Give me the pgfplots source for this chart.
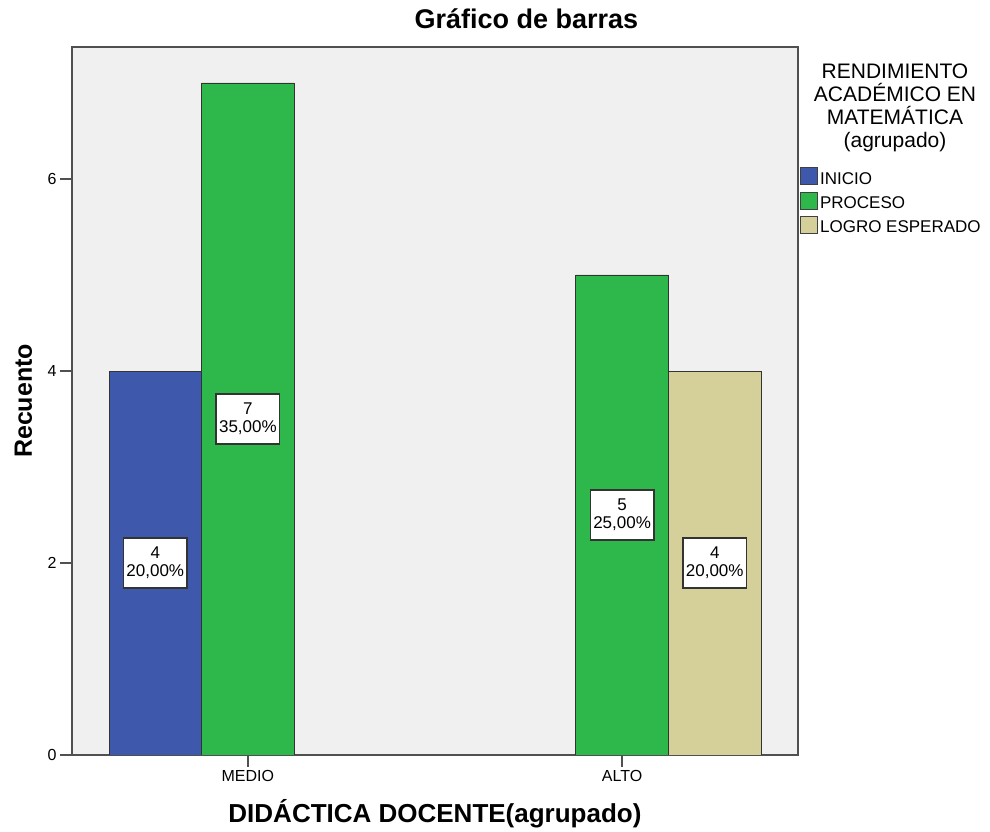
\documentclass[border=0pt]{standalone}
\usepackage{pgfplots}
\pgfplotsset{compat=1.18}
\usepackage{fontspec}
\setmainfont{Liberation Sans}
\definecolor{cInicio}{HTML}{3E58AC}
\definecolor{cProceso}{HTML}{2EB84C}
\definecolor{cLogro}{HTML}{D5CF99}
\definecolor{bgGray}{HTML}{F0F0F0}
\definecolor{axGray}{HTML}{505050}
\begin{document}
\begin{tikzpicture}[x=1pt,y=1pt]
\useasboundingbox (0,0) rectangle (990,832);
\begin{axis}[
  at={(72pt,77pt)}, anchor=south west,
  scale only axis, width=726pt, height=708pt,
  xmin=-0.47, xmax=1.47, ymin=0, ymax=7.375,
  axis background/.style={fill=bgGray},
  axis line style={axGray, line width=1.8pt},
  xtick={0,1}, xticklabels={MEDIO,ALTO}, ytick={0,2,4,6},
  tick align=outside, xtick pos=bottom, ytick pos=left,
  major tick length=12pt,
  tick style={axGray, line width=1.5pt},
  ticklabel style={font=\fontsize{16}{18}\selectfont},
  /pgf/number format/assume math mode=true,
  title={\bfseries Gráfico de barras},
  title style={at={(axis description cs:0.626,1)}, anchor=base, yshift=12pt, font=\fontsize{27}{30}\selectfont},
  xlabel={\bfseries DIDÁCTICA DOCENTE(agrupado)},
  xlabel style={at={(axis description cs:0.5,0)}, anchor=base, yshift=-68pt, font=\fontsize{26}{30}\selectfont},
  ylabel={\bfseries Recuento},
  ylabel style={at={(axis description cs:-0.0551,0.5)}, anchor=base, font=\fontsize{25}{30}\selectfont},
  legend style={at={(axis description cs:1,0.833)}, anchor=north west, xshift=2pt, yshift=-2pt,
    draw=none, fill=none, inner sep=0pt, row sep=4pt,
    font=\fontsize{17}{19}\selectfont,
    cells={anchor=west}},
  legend image code/.code={\draw[#1, draw=black!75, line width=0.9pt] (0pt,-6pt) rectangle (17pt,11pt);},
]
\addplot[ybar, bar width=0.2475, bar shift=0pt, fill=cInicio, draw=black!80, line width=0.8pt]
  coordinates {(-0.2475,4)};
\addlegendentry{INICIO}
\addplot[ybar, bar width=0.2475, bar shift=0pt, fill=cProceso, draw=black!80, line width=0.8pt]
  coordinates {(0,7) (1,5)};
\addlegendentry{PROCESO}
\addplot[ybar, bar width=0.2475, bar shift=0pt, fill=cLogro, draw=black!80, line width=0.8pt]
  coordinates {(1.2475,4)};
\addlegendentry{LOGRO ESPERADO}
\addplot[forget plot, only marks, mark=none, point meta=explicit symbolic,
  nodes near coords,
  nodes near coords style={anchor=center, draw=black!80, fill=white, line width=1.2pt,
    align=center, inner xsep=3pt, inner ysep=9pt,
    font=\fontsize{17}{18}\selectfont}]
  coordinates {(-0.2475,2) [4\\20,00\%] (0,3.5) [7\\35,00\%] (1,2.5) [5\\25,00\%] (1.2475,2) [4\\20,00\%]};
\end{axis}
\node[anchor=north, align=center, font=\fontsize{21}{23}\selectfont] at (895,832-60)
  {RENDIMIENTO\\ACADÉMICO EN\\MATEMÁTICA\\(agrupado)};
\end{tikzpicture}
\end{document}
